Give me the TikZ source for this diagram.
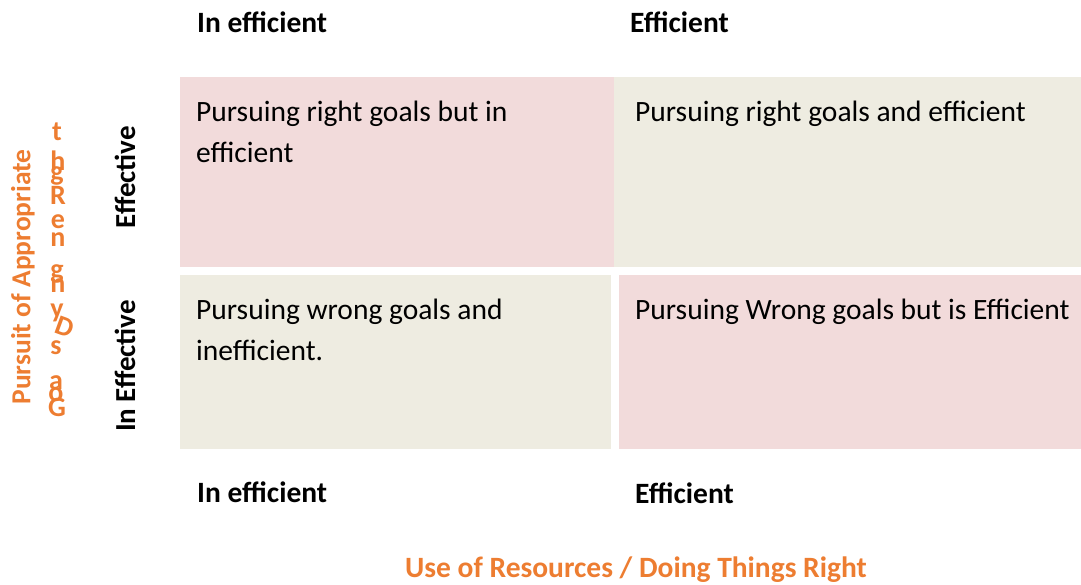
\documentclass[tikz,border=0pt]{standalone}
\usepackage{fontspec}
\setmainfont{Carlito}
\definecolor{pinkc}{HTML}{F2DBDB}
\definecolor{beigec}{HTML}{EEECE1}
\definecolor{orangec}{HTML}{ED7D31}
\begin{document}
\begin{tikzpicture}[x=1pt,y=-1pt,
  body/.style={anchor=base west,inner sep=0,font=\fontsize{29.5}{34}\selectfont},
  head/.style={anchor=base west,inner sep=0,font=\fontsize{29.5}{34}\selectfont\bfseries},
  side/.style={inner sep=0,rotate=90,font=\fontsize{29}{34}\selectfont\bfseries},
  yside/.style={inner sep=0,rotate=90,text=orangec,font=\fontsize{27.5}{32}\selectfont\bfseries},
  garb/.style={inner sep=0,anchor=base,text=orangec,font=\fontsize{28}{32}\selectfont\bfseries},
  title/.style={inner sep=0,anchor=base,text=orangec,font=\fontsize{29.5}{34}\selectfont\bfseries}]
\useasboundingbox (0,0) rectangle (1081,585);
% cells
\fill[pinkc]  (180,77) rectangle (614,267);
\fill[beigec] (614,77) rectangle (1081,267);
\fill[beigec] (180,275) rectangle (611,449);
\fill[pinkc]  (619,275) rectangle (1081,449);
% cell texts
\node[body] (tl1) at (196,122) {Pursuing right goals but in};
\node[body] (tl2) at (196,163) {efficient};
\node[body] (tr1) at (635,122) {Pursuing right goals and efficient};
\node[body] (bl1) at (196,319) {Pursuing wrong goals and};
\node[body] (bl2) at (196,360) {inefficient.};
\node[body] (br1) at (635,319) {Pursuing Wrong goals but is Efficient};
% headers
\node[head] (h1) at (197,33) {In efficient};
\node[head] (h2) at (630,33) {Efficient};
\node[head] (f1) at (197,502) {In efficient};
\node[head] (f2) at (635,503) {Efficient};
% row labels
\node[side] (r1) at (125,177) {Effective};
\node[side] (r2) at (125,366) {In Effective};
% axis titles
\node[yside] (ya) at (23,277) {Pursuit of Appropriate};
\node[title] (xa) at (636,577) {Use of Resources / Doing Things Right};
% garbled vertical label
\node[garb] (g1) at (57,141) {t};
\node[garb] (g2) at (58,171) {h};
\node[garb] (g3) at (57,181) {g};
\node[garb] (g4) at (58,205) {R};
\node[garb] (g5) at (58,229) {e};
\node[garb] (g6) at (58,247) {n};
\node[garb] (g7) at (57,279) {g};
\node[garb] (g8) at (58,292) {n};
\node[garb] (g9) at (57,317) {y};
\node[garb,rotate=-20] (g10) at (62,336) {D};
\node[garb] (g11) at (56,354) {s};
\node[garb] (g12) at (56,389) {a};
\node[garb] (g13) at (56,401) {o};
\node[garb] (g14) at (57,416) {G};
\end{tikzpicture}
\end{document}
